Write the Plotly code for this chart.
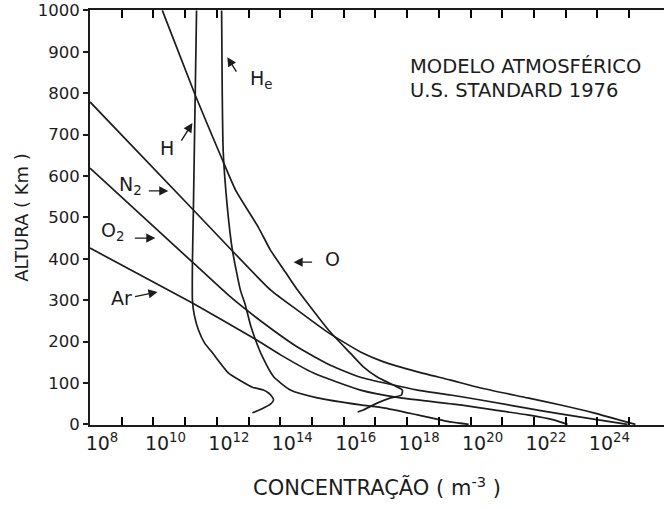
import plotly.graph_objects as go
import numpy as np

# ---- data: log10(concentration / m^-3) vs altitude (km) ----
h_logc = [11.36, 11.32, 11.26, 11.23, 11.23, 11.29, 11.42, 11.61, 11.86, 12.37, 13.12, 13.47, 13.63, 13.75, 13.79, 13.69, 13.53, 13.34, 13.12]
h_alt = [1000, 808, 518, 392, 300, 264, 228, 197, 173, 124, 90, 83, 76, 66, 59, 49, 42, 35, 28]

he_logc = [12.15, 12.17, 12.20, 12.33, 12.49, 12.74, 12.90, 13.06, 13.22, 13.44, 13.79, 14.32, 15.17, 16.53, 17.26, 18.33, 19.37, 19.94]
he_alt = [1000, 800, 660, 525, 421, 325, 288, 240, 204, 163, 115, 83, 64, 47, 40, 23, 6, 0]

o_logc = [10.28, 11.32, 12.18, 12.59, 13.31, 13.69, 14.16, 14.54, 15.52, 16.21, 16.62, 17.07, 17.57, 17.85, 17.82, 17.48, 17.07, 16.62, 16.44]
o_alt = [1000, 795, 638, 566, 476, 421, 368, 325, 228, 172, 139, 114, 95, 83, 71, 64, 52, 35, 30]

n2_logc = [8.0, 11.26, 13.69, 14.54, 15.49, 16.53, 17.26, 18.33, 19.37, 20.32, 21.80, 22.84, 23.88, 25.20]
n2_alt = [779, 518, 325, 276, 223, 175, 151, 127, 107, 88, 64, 47, 28, 0]

o2_logc = [8.0, 11.23, 12.43, 13.47, 14.54, 15.58, 16.53, 18.33, 19.37, 20.32, 22.30, 23.88, 24.95]
o2_alt = [619, 392, 308, 245, 187, 143, 114, 83, 71, 59, 32, 13, 0]

ar_logc = [8.0, 11.23, 13.15, 14.01, 15.05, 16.53, 17.79, 19.68, 20.73, 21.80, 22.62, 23.06]
ar_alt = [426, 293, 209, 168, 124, 83, 64, 47, 35, 23, 11, 0]

x_tick_exp = [8, 9, 10, 11, 12, 13, 14, 15, 16, 17, 18, 19, 20, 21, 22, 23, 24, 25]
x_label_exp = [8, 10, 12, 14, 16, 18, 20, 22, 24]
y_ticks = [0, 100, 200, 300, 400, 500, 600, 700, 800, 900, 1000]

INK = "#1c1c1c"
FONT = "DejaVu Sans"

fig = go.Figure()
series = [("H", h_logc, h_alt), ("He", he_logc, he_alt), ("O", o_logc, o_alt),
          ("N2", n2_logc, n2_alt), ("O2", o2_logc, o2_alt), ("Ar", ar_logc, ar_alt)]
for name, lc, alt in series:
    fig.add_trace(go.Scatter(
        x=10 ** np.array(lc, dtype=float), y=alt, mode="lines", name=name,
        line=dict(color=INK, width=1.7, shape="spline", smoothing=0.5),
        showlegend=False, hoverinfo="skip"))

fig.update_xaxes(
    type="log", range=[8.0, 26.1],
    tickmode="array",
    tickvals=[10.0 ** e for e in x_tick_exp],
    ticktext=[f"10<sup>{e}</sup>" if e in x_label_exp else "" for e in x_tick_exp],
    ticks="inside", ticklen=8, tickwidth=2, tickcolor="#000000",
    mirror="ticks", showline=True, linewidth=2, linecolor=INK,
    showgrid=False, zeroline=False, tickangle=0, ticklabelshift=12,
    tickfont=dict(family=FONT, size=19, color=INK),
    title=dict(text="CONCENTRAÇÃO ( m<sup>-3</sup> )", standoff=28,
               font=dict(family=FONT, size=21, color=INK)))

fig.update_yaxes(
    range=[-1.4, 1001], tickvals=y_ticks, ticktext=[str(v) for v in y_ticks],
    ticks="outside", ticklen=5, tickwidth=1.5, tickcolor=INK,
    showline=True, linewidth=2, linecolor=INK, mirror=False,
    showgrid=False, zeroline=False,
    tickfont=dict(family=FONT, size=16.5, color=INK),
    title=dict(text="ALTURA ( Km )", standoff=4,
               font=dict(family=FONT, size=18, color=INK)))

label_font = dict(family=FONT, size=19, color=INK)

# species labels (x in log10 units, y in km)
labels = [
    ("H<sub>e</sub>", 13.38, 832),
    ("H", 10.44, 668),
    ("N<sub>2</sub>", 9.27, 576),
    ("O<sub>2</sub>", 8.71, 467),
    ("Ar", 8.99, 305),
    ("O", 15.65, 399),
]
for txt, lx, ly in labels:
    fig.add_annotation(x=lx, y=ly, xref="x", yref="y", text=txt, showarrow=False,
                       font=label_font, xanchor="center", yanchor="middle")

# arrows: tip position (log10 x, km) and tail offset in pixels
arrows = [
    (12.33, 887, 10, 16),
    (11.23, 728, -12, 19),
    (10.47, 564, -21, 0),
    (10.06, 450, -22, 0),
    (10.13, 320, -24, 5),
    (14.42, 392, 20, 0),
]
for tx, ty, ax, ay in arrows:
    fig.add_annotation(x=tx, y=ty, xref="x", yref="y", text="", showarrow=True,
                       ax=ax, ay=ay, axref="pixel", ayref="pixel",
                       arrowhead=2, arrowsize=1.3, arrowwidth=1.4, arrowcolor=INK,
                       standoff=0, startstandoff=0)

fig.add_annotation(x=0.554, y=0.864, xref="paper", yref="paper",
                   text="MODELO ATMOSFÉRICO", showarrow=False, xanchor="left",
                   yanchor="middle", font=dict(family=FONT, size=19.5, color=INK))
fig.add_annotation(x=0.554, y=0.806, xref="paper", yref="paper",
                   text="U.S. STANDARD 1976", showarrow=False, xanchor="left",
                   yanchor="middle", font=dict(family=FONT, size=19.5, color=INK))

fig.update_layout(
    width=664, height=509, autosize=False,
    margin=dict(l=90, r=0, t=10, b=84),
    paper_bgcolor="white", plot_bgcolor="white",
    font=dict(family=FONT, color=INK),
)

fig.write_html("out.html")
